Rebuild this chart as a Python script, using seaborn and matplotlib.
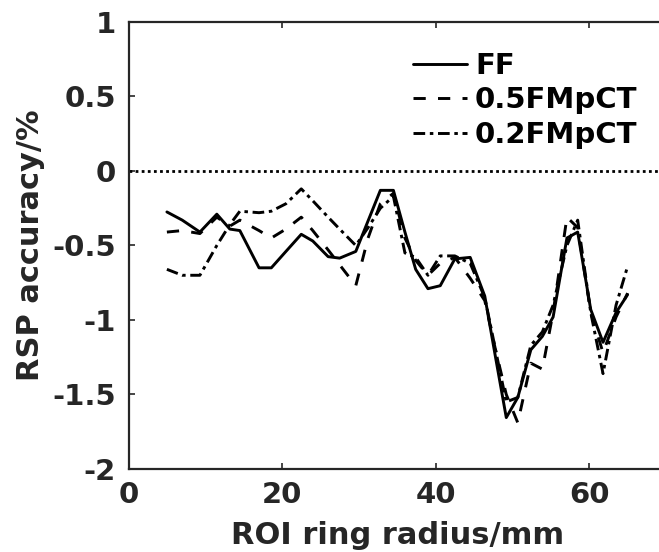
import matplotlib
matplotlib.use("Agg")
import matplotlib.pyplot as plt
import numpy as np
import pandas as pd
import seaborn as sns

# ROI ring radius (mm) at which RSP accuracy was evaluated
radius_mm = [5, 7, 9.3, 11.5, 13.2, 14.5, 17, 18.6, 20.5, 22.5, 24, 26, 27.5,
             29.6, 31.2, 32.8, 34.5, 36, 37.4, 39, 40.6, 42.5, 44.5, 46.4,
             47.8, 49.2, 50.7, 52.4, 53.9, 55.3, 57.1, 58.5, 60.2, 61.8,
             63.5, 65]

# RSP accuracy (%) for each acquisition
acc_ff = [-0.275, -0.33, -0.41, -0.29, -0.39, -0.40, -0.65, -0.65, -0.54,
          -0.425, -0.47, -0.575, -0.585, -0.54, -0.335, -0.13, -0.13, -0.41,
          -0.66, -0.79, -0.77, -0.59, -0.58, -0.84, -1.25, -1.655, -1.52,
          -1.20, -1.11, -0.98, -0.45, -0.41, -0.93, -1.15, -0.95, -0.83]
acc_05 = [-0.41, -0.40, -0.42, -0.31, -0.37, -0.33, -0.40, -0.45, -0.39,
          -0.31, -0.40, -0.53, -0.63, -0.77, -0.45, -0.22, -0.15, -0.45,
          -0.60, -0.70, -0.62, -0.58, -0.72, -0.87, -1.20, -1.50, -1.69,
          -1.29, -1.33, -0.95, -0.31, -0.38, -0.95, -1.22, -0.98, -0.82]
acc_02 = [-0.66, -0.70, -0.70, -0.50, -0.36, -0.27, -0.28, -0.27, -0.22,
          -0.12, -0.20, -0.31, -0.39, -0.50, -0.38, -0.25, -0.17, -0.55,
          -0.58, -0.70, -0.57, -0.57, -0.62, -0.85, -1.20, -1.55, -1.52,
          -1.17, -1.08, -0.90, -0.50, -0.33, -0.95, -1.36, -0.90, -0.64]

series_names = ["FF", "0.5FMpCT", "0.2FMpCT"]
xticks = [0, 20, 40, 60]
yticks = [-2, -1.5, -1, -0.5, 0, 0.5, 1]
ytick_labels = ["-2", "-1.5", "-1", "-0.5", "0", "0.5", "1"]

df = pd.DataFrame({
    "radius": radius_mm * 3,
    "acc": acc_ff + acc_05 + acc_02,
    "series": [series_names[0]] * len(radius_mm)
              + [series_names[1]] * len(radius_mm)
              + [series_names[2]] * len(radius_mm),
})

sns.set_theme(style="ticks")
plt.rcParams["font.family"] = ["DejaVu Sans"]
plt.rcParams["font.weight"] = "bold"
plt.rcParams["axes.unicode_minus"] = False

ink = "#262626"
fig = plt.figure(figsize=(6.59, 5.52), dpi=100)
ax = fig.add_axes([0.195, 0.1504, 0.8156, 0.8098])

line_dashes = {"FF": "", "0.5FMpCT": (4.2, 4.2), "0.2FMpCT": (4.0, 1.6, 1.2, 1.6)}
sns.lineplot(data=df, x="radius", y="acc", style="series",
             style_order=series_names, dashes=line_dashes, color="black",
             linewidth=2.1, sort=False, ax=ax)

ax.axhline(0, color="black", linewidth=2.0, dashes=(1.0, 1.2), zorder=1)

ax.set_xlim(0, 70)
ax.set_ylim(-2, 1)
ax.set_xticks(xticks)
ax.set_xticklabels([str(t) for t in xticks])
ax.set_yticks(yticks)
ax.set_yticklabels(ytick_labels)

ax.tick_params(direction="in", length=4, width=1.2, colors=ink,
               labelsize=21, top=True, right=True)
ax.tick_params(axis="y", pad=9)
ax.tick_params(axis="x", pad=9)
for lab in ax.get_xticklabels() + ax.get_yticklabels():
    lab.set_fontweight("bold")
for sp in ax.spines.values():
    sp.set_linewidth(1.6)
    sp.set_color(ink)

ax.set_xlabel("ROI ring radius/mm", fontsize=22, fontweight="bold",
              color=ink, labelpad=8)
ax.set_ylabel("RSP accuracy/%", fontsize=22, fontweight="bold",
              color=ink, labelpad=5.5)

handles, labels = ax.get_legend_handles_labels()
leg = ax.legend(handles, labels, loc="upper left",
                bbox_to_anchor=(413 / 659, 0.906),
                bbox_transform=fig.transFigure, frameon=False,
                fontsize=21, handlelength=1.85, handletextpad=0.28,
                labelspacing=0.22, borderpad=0, borderaxespad=0)
for t in leg.get_texts():
    t.set_fontweight("bold")
    t.set_color("black")
for h in leg.get_lines():
    h.set_linewidth(2.1)

fig.savefig("out.png", dpi=100)
